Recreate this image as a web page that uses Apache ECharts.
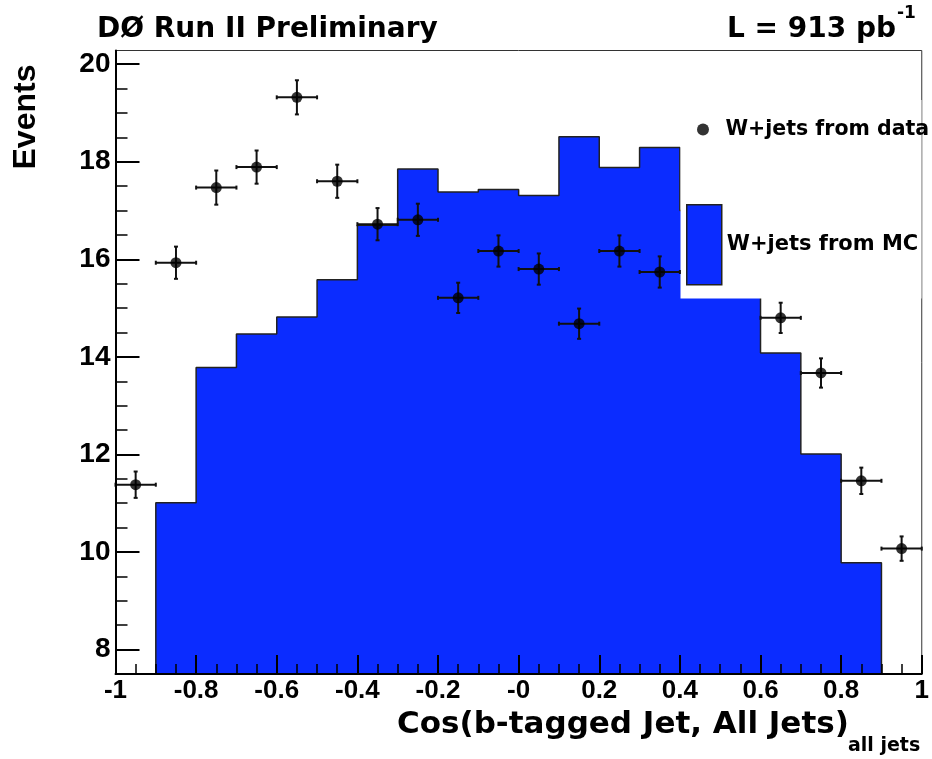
<!DOCTYPE html>
<html><head><meta charset="utf-8">
<script src="https://cdn.jsdelivr.net/npm/echarts@6/dist/echarts.min.js"></script>
<style>html,body{margin:0;padding:0;background:#fff}#c{width:932px;height:759px}</style>
</head><body><div id="c"></div>
<script>
// ---- data ----
const binEdges = [-0.9,-0.8,-0.7,-0.6,-0.5,-0.4,-0.3,-0.2,-0.1,0.0,0.1,0.2,0.3,0.4,0.5,0.6,0.7,0.8,0.9];
const mcValues = [11.01,13.78,14.47,14.82,15.58,16.70,17.85,17.38,17.43,17.31,18.51,17.88,18.29,17.0,16.0,14.08,12.01,9.78];
const dataX = [-0.95,-0.85,-0.75,-0.65,-0.55,-0.45,-0.35,-0.25,-0.15,-0.05,0.05,0.15,0.25,0.35,0.65,0.75,0.85,0.95];
const dataY = [11.38,15.93,17.47,17.89,19.32,17.60,16.72,16.81,15.21,16.17,15.80,14.68,16.17,15.74,14.80,13.67,11.46,10.07];
const dataErr = [0.27,0.33,0.35,0.34,0.35,0.34,0.33,0.33,0.31,0.32,0.32,0.31,0.32,0.32,0.31,0.30,0.27,0.25];
const dataXErr = [0.05,0.05,0.05,0.05,0.05,0.05,0.05,0.05,0.05,0.05,0.05,0.05,0.05,0.05,0.05,0.05,0.05,0.05];
const xTickValues = [-1,-0.8,-0.6,-0.4,-0.2,0,0.2,0.4,0.6,0.8,1];
const xTickLabels = ['-1','-0.8','-0.6','-0.4','-0.2','-0','0.2','0.4','0.6','0.8','1'];
const yTickValues = [8,10,12,14,16,18,20];
const yTickLabels = ['8','10','12','14','16','18','20'];
const xMin = -1, xMax = 1, yMin = 7.5, yMax = 20.28;

// ---- layout ----
const W = 932, H = 759;
const gLeft = 115.5, gRight = 9.5, gTop = 50.5, gBottom = 85;
const plotH = H - gTop - gBottom;
const pixY = v => gTop + (yMax - v) / (yMax - yMin) * plotH;
const blue = '#0b2cff';
const ink = '#000';

const mcLine = [[binEdges[0], yMin]];
for (let i = 0; i < mcValues.length; i++) mcLine.push([binEdges[i], mcValues[i]]);
mcLine.push([binEdges[binEdges.length - 1], mcValues[mcValues.length - 1]]);
mcLine.push([binEdges[binEdges.length - 1], yMin]);

const lookup = (vals, labs) => v => {
  for (let i = 0; i < vals.length; i++) if (Math.abs(vals[i] - v) < 1e-6) return labs[i];
  return '';
};

const chart = echarts.init(document.getElementById('c'), null, {renderer: 'canvas'});
chart.setOption({
  animation: false,
  backgroundColor: '#fff',
  grid: [
    {left: gLeft, right: gRight, top: gTop, bottom: gBottom, show: true, borderColor: '#333', borderWidth: 1, backgroundColor: 'transparent'},
    {left: gLeft, right: gRight, top: pixY(yTickValues[yTickValues.length - 1]), bottom: H - pixY(yTickValues[0]), show: false}
  ],
  xAxis: [
    {type: 'value', gridIndex: 0, min: xMin, max: xMax, interval: 0.2, z: 10,
     axisLine: {show: true, onZero: false, lineStyle: {color: ink, width: 2}},
     axisTick: {show: true, inside: true, length: 19, lineStyle: {color: ink, width: 2}},
     minorTick: {show: true, splitNumber: 4, length: 10, lineStyle: {color: ink, width: 1.5}},
     splitLine: {show: false}, minorSplitLine: {show: false},
     axisLabel: {formatter: lookup(xTickValues, xTickLabels), fontSize: 26, fontWeight: 'bold', fontFamily: '"Liberation Sans", Arial, sans-serif', color: ink, margin: 4, showMinLabel: true, showMaxLabel: true}},
    {type: 'value', gridIndex: 1, min: xMin, max: xMax, show: false}
  ],
  yAxis: [
    {type: 'value', gridIndex: 0, min: yMin, max: yMax, z: 10,
     axisLine: {show: true, onZero: false, lineStyle: {color: ink, width: 2}},
     axisTick: {show: false}, axisLabel: {show: false}, splitLine: {show: false}},
    {type: 'value', gridIndex: 1, min: yTickValues[0], max: yTickValues[yTickValues.length - 1], interval: 2, z: 10,
     axisLine: {show: false, onZero: false},
     axisTick: {show: true, inside: true, length: 24, lineStyle: {color: ink, width: 2}},
     minorTick: {show: true, splitNumber: 4, length: 12, lineStyle: {color: ink, width: 1.5}},
     splitLine: {show: false}, minorSplitLine: {show: false},
     axisLabel: {formatter: lookup(yTickValues, yTickLabels), fontSize: 28, fontWeight: 'bold', fontFamily: '"Liberation Sans", Arial, sans-serif', color: ink, margin: 5}}
  ],
  legend: [
    {data: [{name: 'W+jets from data', icon: 'circle'}], left: 697, top: 119, padding: 0, itemWidth: 35, itemHeight: 12, selectedMode: false,
     textStyle: {fontSize: 20.5, fontWeight: 'bold', fontFamily: '"DejaVu Sans", sans-serif', color: ink},
     itemStyle: {color: ink}},
    {data: [{name: 'W+jets from MC', icon: 'rect'}], left: 686, top: 204, padding: 0, itemWidth: 35, itemHeight: 80, selectedMode: false,
     textStyle: {fontSize: 21, fontWeight: 'bold', fontFamily: '"DejaVu Sans", sans-serif', color: ink},
     itemStyle: {color: blue, borderColor: '#222', borderWidth: 1.5}}
  ],
  graphic: [
    {type: 'rect', z: 3, shape: {x: 680.5, y: 100, width: 241, height: 198.5}, style: {fill: '#fff'}},
    {type: 'text', x: 97, y: 30, style: {text: 'DØ Run II Preliminary', font: 'bold 28px "DejaVu Sans", sans-serif', fill: ink, align: 'left', verticalAlign: 'middle', textAlign: 'left', textVerticalAlign: 'middle'}},
    {type: 'text', x: 896, y: 30, style: {text: 'L = 913 pb', font: 'bold 28px "DejaVu Sans", sans-serif', fill: ink, align: 'right', verticalAlign: 'middle', textAlign: 'right', textVerticalAlign: 'middle'}},
    {type: 'text', x: 897, y: 14, style: {text: '-1', font: 'bold 17px "DejaVu Sans", sans-serif', fill: ink, align: 'left', verticalAlign: 'middle', textAlign: 'left', textVerticalAlign: 'middle'}},
    {type: 'text', x: 26, y: 117, rotation: Math.PI / 2, style: {text: 'Events', font: 'bold 32px "Liberation Sans", Arial, sans-serif', fill: ink, align: 'center', verticalAlign: 'middle', textAlign: 'center', textVerticalAlign: 'middle'}},
    {type: 'text', x: 397, y: 725, style: {text: 'Cos(b-tagged Jet, All Jets)', font: 'bold 31px "DejaVu Sans", sans-serif', fill: ink, align: 'left', verticalAlign: 'middle', textAlign: 'left', textVerticalAlign: 'middle'}},
    {type: 'text', x: 848, y: 746, style: {text: 'all jets', font: 'bold 19px "DejaVu Sans", sans-serif', fill: ink, align: 'left', verticalAlign: 'middle', textAlign: 'left', textVerticalAlign: 'middle'}}
  ],
  series: [
    {name: 'W+jets from MC', type: 'line', xAxisIndex: 0, yAxisIndex: 0, step: 'end', data: mcLine, symbol: 'none', z: 2,
     color: blue, lineStyle: {color: '#222', width: 1.5}, areaStyle: {color: blue, opacity: 1, origin: 'start'}},
    {name: 'errors', type: 'custom', xAxisIndex: 0, yAxisIndex: 0, z: 5,
     data: dataX.map((x, i) => [x, dataY[i], dataErr[i], dataXErr[i]]),
     renderItem: (params, api) => {
       const x = api.value(0), y = api.value(1), e = api.value(2), xe = api.value(3);
       const t = api.coord([x, y + e]), b = api.coord([x, y - e]);
       const l = api.coord([x - xe, y]), r = api.coord([x + xe, y]);
       const st = {stroke: '#111', lineWidth: 2};
       const cap = 2;
       return {type: 'group', children: [
         {type: 'line', shape: {x1: t[0], y1: t[1], x2: b[0], y2: b[1]}, style: st},
         {type: 'line', shape: {x1: l[0], y1: l[1], x2: r[0], y2: r[1]}, style: st},
         {type: 'line', shape: {x1: t[0] - cap, y1: t[1], x2: t[0] + cap, y2: t[1]}, style: st},
         {type: 'line', shape: {x1: b[0] - cap, y1: b[1], x2: b[0] + cap, y2: b[1]}, style: st},
         {type: 'line', shape: {x1: l[0], y1: l[1] - cap, x2: l[0], y2: l[1] + cap}, style: st},
         {type: 'line', shape: {x1: r[0], y1: r[1] - cap, x2: r[0], y2: r[1] + cap}, style: st}
       ]};
     }},
    {name: 'W+jets from data', type: 'scatter', xAxisIndex: 0, yAxisIndex: 0, z: 6, symbol: 'circle', symbolSize: 11,
     itemStyle: {color: ink}, data: dataX.map((x, i) => [x, dataY[i]])}
  ]
});
</script></body></html>
